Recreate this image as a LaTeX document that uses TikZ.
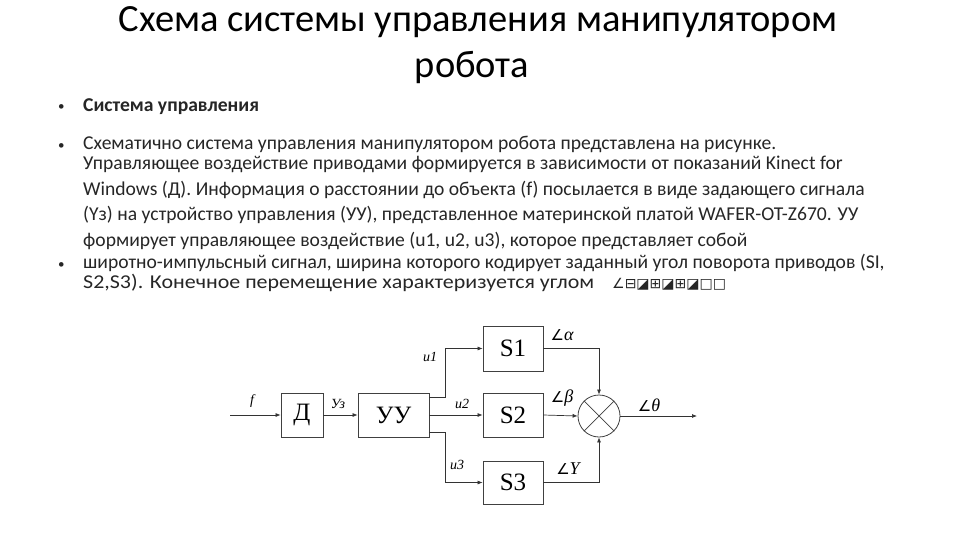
\documentclass[tikz,border=0pt]{standalone}
\usepackage{graphicx}
\usepackage{fontspec}
\setmainfont{Carlito}
\newfontfamily\diagfont{Liberation Serif}
\newfontfamily\symfont{DejaVu Sans}
\usetikzlibrary{arrows.meta}
\newcommand{\ang}{{\symfont\upshape\fontsize{15}{15}\selectfont ∠}}
\begin{document}
\begin{tikzpicture}[x=1pt,y=-1pt,
    line/.style={draw=black!80,line width=0.7pt},
    sig/.style={line,-{Latex[length=5pt,width=4pt]}},
    block/.style={draw=black!75,line width=0.8pt,fill=white,inner sep=0pt,
                  font=\diagfont\fontsize{25}{25}\selectfont},
    lbl/.style={font=\diagfont\itshape\fontsize{14}{14}\selectfont,inner sep=0pt},
    glbl/.style={font=\diagfont\itshape\fontsize{18}{18}\selectfont,inner sep=0pt},
    body/.style={anchor=base west,inner sep=0pt,font=\fontsize{19.6}{19.6}\selectfont,text=black!85},
    bul/.style={anchor=base west,inner sep=0pt,font=\fontsize{13}{13}\selectfont,text=black!85}]
% \clip (0,0) rectangle (960,540);
\useasboundingbox (0,0) rectangle (960,540);
\fill[white] (0,0) rectangle (960,540);

% Title
\node[font=\fontsize{38.5}{38.5}\selectfont,inner sep=0pt] (title1) at (478,22) {Схема системы управления манипулятором};
\node[font=\fontsize{38.5}{38.5}\selectfont,inner sep=0pt] (title2) at (472,68) {робота};

% Bullets and text lines
\node[bul] (b1) at (58,111) {•};
\node[bul] (b2) at (58,150) {•};
\node[bul] (b3) at (58,268) {•};
\node[body,font=\fontsize{19.6}{19.6}\selectfont\bfseries] (t0) at (83,112) {Система управления};
\node[body] (t1) at (83,150) {Схематично система управления манипулятором робота представлена на рисунке.};
\node[body] (t2) at (83,170) {Управляющее воздействие приводами формируется в зависимости от показаний Kinect for};
\node[body] (t3) at (83,195) {Windows (Д). Информация о расстоянии до объекта (f) посылается в виде задающего сигнала};
\node[body] (t4) at (83,220) {(Yз) на устройство управления (УУ), представленное материнской платой  WAFER-OT-Z670. УУ};
\node[body] (t5) at (83,246) {формирует управляющее воздействие (u1, u2, u3), которое представляет собой};
\node[body] (t6) at (83,268) {широтно-импульсный сигнал, ширина которого кодирует заданный угол поворота приводов (SI,};
\node[body] (t7) at (83,288) {\scalebox{1.12}[1]{S2,S3). Конечное перемещение характеризуется углом}};
\node[body] (t7b) at (612,288) {{\symfont\fontsize{14}{14}\selectfont ∠⊟◪⊞◪⊞◪□□}};

% Blocks
\node[block,minimum width=42pt,minimum height=44pt] (D) at (302,415) {Д};
\node[block,minimum width=71pt,minimum height=44pt] (UU) at (393.5,415) {УУ};
\node[block,minimum width=60pt,minimum height=45pt] (S1) at (513,348.5) {S1};
\node[block,minimum width=60pt,minimum height=44pt] (S2) at (513,415) {S2};
\node[block,minimum width=60pt,minimum height=43pt] (S3) at (513,482.5) {S3};
\node[draw=black!75,line width=0.8pt,circle,minimum size=42pt,inner sep=0pt] (sum) at (599,416) {};
\draw[line,black!75] (sum.45) -- (sum.225) (sum.135) -- (sum.315);

% Coordinates
\coordinate (fin) at (230,415);
\coordinate (uuA) at (UU.east |- 0,397);
\coordinate (uuC) at (UU.east |- 0,432);
\coordinate (out) at (697,416);

% Signals
\draw[sig] (fin) -- (D.west);
\draw[sig] (D.east) -- (UU.west);
\draw[sig] (uuA) -- (445,397) |- (S1.west);
\draw[sig] (UU.east |- S2.west) -- (S2.west);
\draw[sig] (uuC) -- (445,432) |- (S3.west);
\draw[sig] (S1.east) -| (sum.north);
\draw[sig] (S2.east) -- (sum.west);
\draw[sig] (S3.east) -| (sum.south);
\draw[sig] (sum.east) -- (out);

% Labels
\node[lbl] (lf) at (252,401) {f};
\node[lbl] (ly) at (338,404) {Уз};
\node[lbl] (lu1) at (430,357) {u1};
\node[lbl] (lu2) at (462,404) {u2};
\node[lbl] (lu3) at (457,465) {u3};
\node[glbl] (la) at (562,335) {\ang α};
\node[glbl] (lb) at (562,398) {\ang β};
\node[glbl] (lg) at (568,469) {\ang Y};
\node[glbl] (lt) at (649,405) {\ang θ};
\end{tikzpicture}
\end{document}
